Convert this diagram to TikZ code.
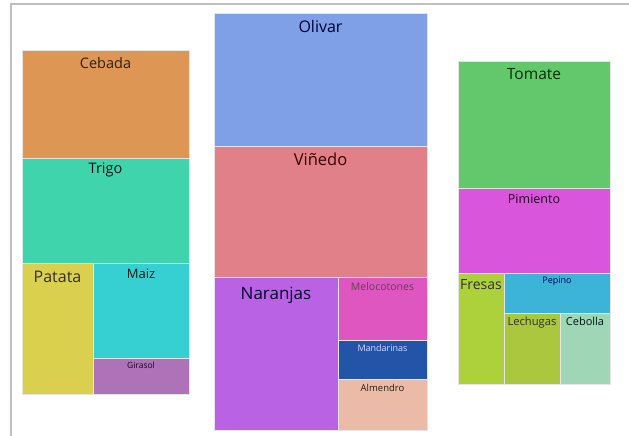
\documentclass[tikz,border=0pt]{standalone}
\usepackage{fontspec}
\setmainfont{Open Sans}
\usetikzlibrary{positioning}

\definecolor{cebada}{HTML}{DE9654}
\definecolor{trigo}{HTML}{40D4AC}
\definecolor{patata}{HTML}{DBD04E}
\definecolor{maiz}{HTML}{36D0D2}
\definecolor{girasol}{HTML}{AD72B8}
\definecolor{olivar}{HTML}{7F9FE6}
\definecolor{vinedo}{HTML}{E18089}
\definecolor{naranjas}{HTML}{BA62E4}
\definecolor{melocotones}{HTML}{E056C1}
\definecolor{mandarinas}{HTML}{2255A8}
\definecolor{almendro}{HTML}{EBBBA8}
\definecolor{tomate}{HTML}{63C86C}
\definecolor{pimiento}{HTML}{D955DB}
\definecolor{fresas}{HTML}{ADD13B}
\definecolor{pepino}{HTML}{3BB4D8}
\definecolor{lechugas}{HTML}{ABC73E}
\definecolor{cebolla}{HTML}{9FD6B6}

\begin{document}
\begin{tikzpicture}[x=1pt, y=-1pt,
    every node/.style={anchor=base, inner sep=0pt},
    letra/.style={font=\fontsize{#1}{#1}\selectfont},
    celda/.style={draw=white!80!gray, line width=0.25pt}]
  \useasboundingbox (0,0) rectangle (629,436);
  \draw [gray!50, line width=1.5pt] (11,436) -- (11,4) -- (629,4); % marco
  % cereales
  \filldraw [celda, fill=cebada] (22,50) rectangle (189,158);
  \node [letra=14.5, text=black!75!brown] (cebada) at (105.5,68) {Cebada};
  \filldraw [celda, fill=trigo] (22,158) rectangle (189,263);
  \node [letra=14.5, text=black!85!teal] (trigo) at (105.5,173) {Trigo};
  \filldraw [celda, fill=patata] (22,263) rectangle (93,394);
  \node [letra=16, text=black!85!olive] (patata) at (57.5,282) {Patata};
  \filldraw [celda, fill=maiz] (93,263) rectangle (189,358);
  \node [letra=13, text=black!80!teal] (maiz) at (141,278) {Maiz};
  \filldraw [celda, fill=girasol] (93,358) rectangle (189,394);
  \node [letra=8.5, text=black!75!violet] (girasol) at (141,368) {Girasol};
  % lenosos
  \filldraw [celda, fill=olivar] (214,13) rectangle (427,146);
  \node [letra=16, text=black!78!blue] (olivar) at (320.5,33) {Olivar};
  \filldraw [celda, fill=vinedo] (214,146) rectangle (427,277);
  \node [letra=16.5, text=black!78!red] (vinedo) at (320.5,165) {Viñedo};
  \filldraw [celda, fill=naranjas] (214,277) rectangle (338,430);
  \node [letra=17, text=black!82!blue] (naranjas) at (276,299) {Naranjas};
  \filldraw [celda, fill=melocotones] (338,277) rectangle (427,340);
  \node [letra=10.5, text=black!72!magenta] (melocotones) at (382.5,290) {Melocotones};
  \filldraw [celda, fill=mandarinas] (338,340) rectangle (427,379);
  \node [letra=9, text=white!85!blue] (mandarinas) at (382.5,351) {Mandarinas};
  \filldraw [celda, fill=almendro] (338,379) rectangle (427,430);
  \node [letra=9.5, text=black!78!brown] (almendro) at (382.5,391) {Almendro};
  % hortalizas
  \filldraw [celda, fill=tomate] (458,61) rectangle (610,188);
  \node [letra=15.5, text=black!82!green] (tomate) at (534,79) {Tomate};
  \filldraw [celda, fill=pimiento] (458,188) rectangle (610,273);
  \node [letra=12.5, text=black!70!violet] (pimiento) at (534,203) {Pimiento};
  \filldraw [celda, fill=fresas] (458,273) rectangle (504,384);
  \node [letra=14, text=black!85!olive] (fresas) at (481,289) {Fresas};
  \filldraw [celda, fill=pepino] (504,273) rectangle (610,313);
  \node [letra=9, text=black!68!blue] (pepino) at (557,283) {Pepino};
  \filldraw [celda, fill=lechugas] (504,313) rectangle (560,384);
  \node [letra=11.2, text=black!85!olive] (lechugas) at (532,325) {Lechugas};
  \filldraw [celda, fill=cebolla] (560,313) rectangle (610,384);
  \node [letra=11, text=black!80!teal] (cebolla) at (585,325) {Cebolla};
\end{tikzpicture}
\end{document}
